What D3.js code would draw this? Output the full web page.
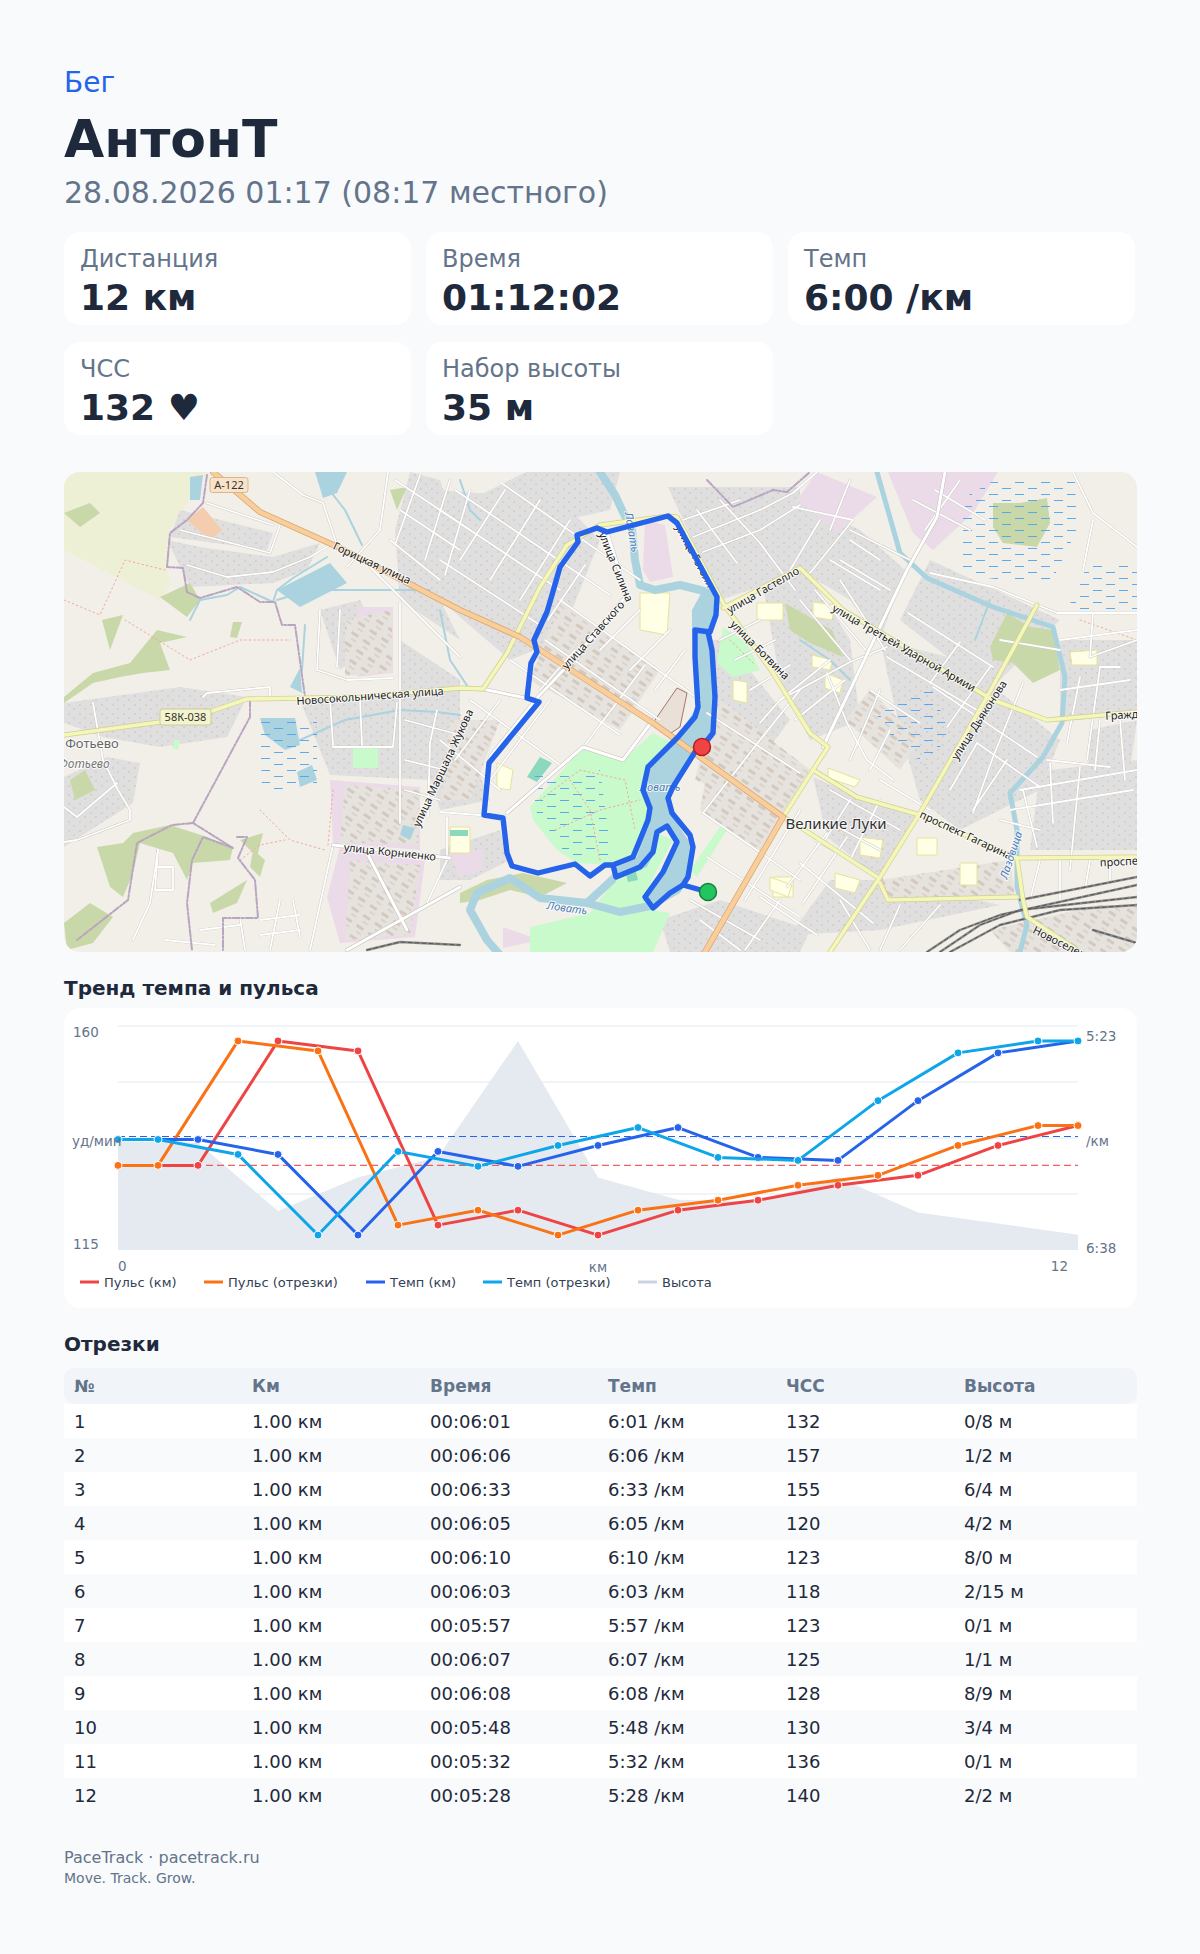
<!DOCTYPE html>
<html lang="ru">
<head>
<meta charset="utf-8">
<title>PaceTrack</title>
<script src="https://cdn.jsdelivr.net/npm/d3@7"></script>
<style>
  html, body { margin: 0; padding: 0; background: #f8fafc; }
  svg { display: block; font-family: "DejaVu Sans", sans-serif; }
  .maplabel { font-family: "Noto Sans", sans-serif; paint-order: stroke; stroke: rgba(255,255,255,.75); stroke-width: 2px; }
</style>
</head>
<body>
<script>
// ---- header and stat cards
var sport = "Бег", athlete = "АнтонТ", started = "28.08.2026 01:17 (08:17 местного)";
var statLabels = ["Дистанция", "Время", "Темп", "ЧСС", "Набор высоты"];
var statValues = ["12 км", "01:12:02", "6:00 /км", "132 ♥", "35 м"];

// ---- chart series
var kmMarks   = [0,1,2,3,4,5,6,7,8,9,10,11,12];
var kmHr      = [132,132,157,155,120,123,118,123,125,128,130,136,140];
var kmPace    = [361,361,366,393,365,370,363,357,367,368,348,332,328];
var splitMarks = [0,0.5,1.5,2.5,3.5,4.5,5.5,6.5,7.5,8.5,9.5,10.5,11.5,12];
var splitHr    = [132,132,157,155,120,123,118,123,125,128,130,136,140,140];
var splitPace  = [361,361,366,393,365,370,363,357,367,368,348,332,328,328];
var elevation  = [97.8,97.7,92.8,95.2,96.7,105,95.2,93.6,93.5,95.2,92.7,91.9,91.1];
var avgHr = 132, avgPace = 360;
var hrGrid = [160,148.75,137.5,126.25];
var legendNames = ["Пульс (км)","Пульс (отрезки)","Темп (км)","Темп (отрезки)","Высота"];
var legendColors = ["#ef4444","#f97316","#2563eb","#0ea5e9","#cbd5e1"];

// ---- table
var tableHead = ["№","Км","Время","Темп","ЧСС","Высота"];
var segNo    = ["1","2","3","4","5","6","7","8","9","10","11","12"];
var segKm    = ["1.00 км","1.00 км","1.00 км","1.00 км","1.00 км","1.00 км","1.00 км","1.00 км","1.00 км","1.00 км","1.00 км","1.00 км"];
var segTime  = ["00:06:01","00:06:06","00:06:33","00:06:05","00:06:10","00:06:03","00:05:57","00:06:07","00:06:08","00:05:48","00:05:32","00:05:28"];
var segPace  = ["6:01 /км","6:06 /км","6:33 /км","6:05 /км","6:10 /км","6:03 /км","5:57 /км","6:07 /км","6:08 /км","5:48 /км","5:32 /км","5:28 /км"];
var segHr    = ["132","157","155","120","123","118","123","125","128","130","136","140"];
var segElev  = ["0/8 м","1/2 м","6/4 м","4/2 м","8/0 м","2/15 м","0/1 м","1/1 м","8/9 м","3/4 м","0/1 м","2/2 м"];

// ---- map features
var farmland = [[[64,472],[207,472],[170,530],[167,567],[170,585],[160,600],[64,550]]];
var residential = [
 [[180,510],[273,533],[267,550],[170,537]],
 [[167,540],[200,547],[273,557],[320,543],[307,570],[273,583],[190,587]],
 [[64,703],[180,687],[247,697],[227,737],[160,747],[103,737],[64,723]],
 [[64,777],[107,757],[140,763],[133,803],[64,847]],
 [[440,490],[560,500],[600,540],[560,640],[510,660],[440,600]],
 [[668,487],[800,487],[800,573],[720,600]],
 [[880,640],[960,660],[1060,740],[1040,790],[960,830],[920,800],[900,730]],
 [[1090,730],[1137,720],[1130,770],[1087,790]],
 [[813,777],[873,803],[917,817],[877,877],[827,837]],
 [[760,570],[800,560],[850,640],[860,720],[810,740],[780,680]],
 [[400,640],[460,680],[460,700],[400,700]],
 [[1040,770],[1080,770],[1070,850],[1030,850]],
 [[470,500],[530,470],[620,472],[610,510],[520,530]],
 [[400,600],[460,640],[440,600],[460,540],[440,480],[410,472],[395,530]],
 [[320,610],[360,600],[380,640],[340,670]],
 [[300,700],[460,695],[460,740],[430,780],[330,775]],
 [[425,760],[470,750],[490,800],[440,810]],
 [[440,850],[500,830],[510,860],[470,880],[440,880]],
 [[700,640],[725,640],[790,720],[760,760],[720,720]],
 [[800,500],[860,530],[905,570],[880,640],[850,600],[800,570]],
 [[930,560],[1060,620],[990,690],[900,620]],
 [[1050,770],[1137,760],[1137,850],[1060,850]],
 [[1060,640],[1137,640],[1137,710],[1060,720]],
 [[660,920],[720,900],[810,930],[800,952],[670,952]],
 [[830,880],[880,880],[1000,905],[880,930],[790,935]]
];
var denseBlocks = [
 [[560,600],[660,670],[620,730],[530,680]],
 [[450,720],[500,720],[470,800],[440,800]],
 [[720,700],[810,770],[760,850],[700,810]],
 [[345,620],[392,610],[392,672],[345,676]],
 [[345,785],[420,790],[418,845],[340,842]],
 [[350,860],[420,865],[410,935],[345,940]],
 [[880,880],[1010,860],[1015,895],[885,900]],
 [[990,930],[1100,905],[1137,905],[1137,952],[1010,952]],
 [[870,690],[920,740],[900,770],[845,720]],
 [[710,720],[745,735],[720,790],[695,780]]
];
var industrial = [
 [[357,607],[393,607],[393,673],[357,677]],
 [[330,780],[420,787],[420,850],[333,843]],
 [[340,847],[425,860],[415,937],[340,943],[327,897]],
 [[797,500],[817,472],[877,497],[837,533]],
 [[888,472],[998,472],[973,513],[933,550],[913,533]],
 [[645,520],[665,525],[673,577],[650,582],[643,570]],
 [[450,853],[483,850],[483,870],[460,877]],
 [[503,927],[540,940],[503,948]]
];
var forest = [
 [[64,697],[93,673],[130,663],[157,630],[187,637],[160,643],[170,670],[143,673],[120,677],[93,683],[64,703]],
 [[160,597],[190,583],[200,600],[187,617]],
 [[102,620],[123,615],[110,650]],
 [[233,622],[242,622],[237,638],[230,637]],
 [[133,833],[170,825],[207,837],[233,847],[230,860],[193,863],[187,880],[173,853],[140,843],[133,873],[123,897],[110,887],[97,847],[123,843]],
 [[64,923],[90,903],[113,917],[93,943],[67,950]],
 [[210,903],[247,880],[237,903],[213,913]],
 [[240,840],[263,833],[257,857]],
 [[253,850],[265,860],[260,877],[250,867]],
 [[64,513],[90,503],[100,513],[80,527]],
 [[390,490],[407,487],[397,510]],
 [[460,893],[487,880],[523,873],[567,883],[540,897],[510,890],[480,900],[460,903]],
 [[990,647],[1007,613],[1030,627],[1053,630],[1060,670],[1033,683],[1013,663],[993,660]],
 [[993,503],[1020,503],[1047,498],[1050,523],[1037,547],[1003,543],[993,527]],
 [[70,780],[85,770],[95,790],[75,800]],
 [[785,603],[832,630],[843,657],[810,643],[790,630]]
];
var parks = [
 [[530,807],[583,747],[623,760],[653,733],[673,743],[648,767],[642,790],[650,813],[637,857],[610,865],[577,863],[557,850],[533,820]],
 [[530,927],[590,913],[617,877],[640,877],[653,910],[670,913],[653,952],[530,952]],
 [[620,878],[653,857],[657,833],[673,840],[643,897],[630,890]],
 [[697,877],[727,830],[720,827],[690,870]],
 [[723,627],[747,643],[760,670],[733,677],[717,663]],
 [[175,740],[180,740],[178,750],[172,748]],
 [[353,747],[378,748],[378,768],[353,768]]
];
var pitches = [[[527,777],[540,757],[552,763],[537,782]],[[625,870],[635,868],[638,880],[628,882]],[[450,830],[468,830],[468,836],[450,836]]];
var fortress = [[[653,723],[677,688],[687,693],[680,727],[668,735]]];
var allotments = [[[187,520],[203,507],[222,530],[210,540]]];
var schools = [
 [[497,763],[513,770],[510,790],[497,788]],[[640,593],[670,593],[667,635],[640,630]],[[733,680],[747,682],[747,703],[733,700]],
 [[757,603],[783,603],[783,620],[757,620]],[[773,877],[793,877],[793,897],[773,897]],[[917,838],[937,838],[937,855],[917,855]],
 [[960,863],[977,863],[977,885],[960,885]],[[860,837],[883,840],[880,858],[860,855]],[[835,873],[860,880],[855,893],[835,888]],
 [[770,877],[792,885],[788,897],[770,890]],[[1070,652],[1097,650],[1097,665],[1072,665]],[[813,602],[835,605],[832,620],[813,617]],
 [[812,655],[833,660],[830,670],[812,667]],[[825,673],[843,680],[840,693],[825,688]],[[828,768],[860,780],[855,787],[828,778]],
 [[450,827],[470,827],[470,853],[450,853]]
];
var wetlands = [
 [[960,500],[1000,477],[1075,480],[1077,530],[1050,585],[960,575]],
 [[1067,610],[1090,560],[1137,565],[1137,610]],
 [[877,715],[930,683],[950,735],[925,765],[885,730]],
 [[260,720],[317,720],[317,787],[262,790]],
 [[535,773],[600,770],[612,860],[570,860],[535,810]]
];
var waterAreas = [
 [[692,630],[697,707],[673,743],[647,767],[642,790],[650,813],[637,857],[617,867],[610,877],[617,878],[647,867],[657,847],[657,830],[667,827],[677,840],[663,873],[643,900],[653,908],[680,893],[690,877],[693,847],[670,813],[667,797],[697,753],[715,727],[715,697],[710,630],[717,597],[703,590],[692,610]],
 [[277,590],[330,563],[347,583],[300,607]],
 [[260,718],[295,718],[300,745],[285,750],[265,735]],
 [[297,772],[312,765],[317,780],[300,787]],
 [[315,472],[347,472],[337,493],[323,498]],
 [[190,477],[203,475],[200,500],[190,500]],
 [[290,687],[300,668],[302,693]],
 [[403,825],[415,828],[410,840],[400,835]]
];
var riverWide = [[[712,620],[712,593],[680,585],[655,590],[640,585],[635,560],[632,530],[622,510],[615,495],[600,472]],
 [[612,880],[587,903],[540,898],[510,878],[477,893],[470,910],[487,940],[500,955]],
 [[587,903],[620,912],[655,905]]];
var riverNarrow = [
 [[877,472],[900,553],[927,578],[993,607],[1053,627],[1065,677],[1062,723],[1043,757],[1010,793],[1017,830],[1017,887],[1027,925],[1020,952]]
];
var streams = [
 [[190,620],[200,600],[227,595],[240,587],[273,602],[277,590],[293,578],[327,557]],
 [[277,600],[310,590],[360,590],[400,590],[430,590]],
 [[302,670],[305,625]],[[320,478],[345,510],[362,545]],
 [[300,740],[345,720],[400,710],[437,712],[460,715]],
 [[440,610],[450,660],[470,690]],[[990,600],[975,640]],
 [[460,480],[470,510],[480,520]],[[800,640],[830,660],[850,680]]
];
var streets = [
 [[180,530],[270,553],[280,525]],[[187,565],[227,577],[273,572],[310,557],[330,545]],[[207,503],[273,525]],[[273,472],[303,495],[323,503],[337,545]],
 [[388,472],[380,530],[347,567]],[[400,603],[400,697],[400,823]],[[370,567],[460,657]],[[320,610],[317,670],[347,680],[393,678]],[[340,610],[337,667]],
 [[203,697],[207,693],[270,687],[270,697]],[[93,703],[103,760],[118,790],[130,810],[130,820],[77,840],[64,842]],[[64,807],[77,817],[117,783]],
 [[397,703],[393,747],[333,747]],[[437,710],[430,743],[428,817]],[[333,845],[310,950]],[[447,817],[447,860],[427,903]],
 [[158,850],[155,890],[173,890],[173,867],[158,867]],[[158,850],[150,903],[133,940]],[[293,900],[300,937]],[[440,510],[560,590]],[[455,490],[610,595]],
 [[500,482],[640,580]],[[440,560],[540,625]],[[560,600],[700,700]],[[545,640],[660,720]],[[510,660],[620,735]],[[470,700],[560,765]],[[440,740],[500,790]],
 [[460,560],[505,490]],[[490,580],[540,500]],[[520,600],[570,520]],[[548,620],[585,565]],[[600,650],[640,610]],[[630,670],[670,630]],[[655,690],[685,650]],
 [[540,690],[575,650]],[[490,780],[550,700]],[[455,760],[500,700]],[[585,745],[645,665]],[[440,812],[505,817]],
 [[707,713],[800,773]],[[703,813],[800,880]],[[707,857],[800,917]],[[730,780],[813,835]],[[745,900],[800,810]],[[703,813],[760,740],[800,690]],
 [[930,573],[993,587],[1057,613],[1137,613]],[[793,507],[853,520],[810,573]],[[760,510],[793,493],[817,472]],[[683,520],[740,500]],[[693,537],[760,510]],
 [[703,552],[760,530],[800,505]],[[697,510],[737,563]],[[720,500],[760,543],[795,590]],[[908,613],[993,667]],[[887,657],[977,710]],[[933,687],[1037,757]],
 [[870,690],[920,723]],[[977,743],[1040,787]],[[960,642],[930,683]],[[990,667],[947,727]],[[1023,683],[993,757],[973,813]],[[977,743],[950,790]],
 [[1007,760],[973,810]],[[1047,760],[1110,767]],[[1080,767],[1070,870]],[[1050,763],[1053,823]],[[1120,667],[1100,667],[1087,760]],[[1080,677],[1067,743]],
 [[1010,810],[1133,790]],[[1023,790],[1037,847]],[[1093,613],[1090,657],[1137,640]],[[1073,472],[1093,513],[1137,547]],[[1093,520],[1083,570]],
 [[760,723],[780,700],[850,662],[887,647]],[[827,673],[847,723],[867,760],[893,780]],[[827,833],[787,887]],[[847,837],[803,903]],[[800,863],[873,923]],
 [[913,500],[970,530]],[[935,490],[985,520]],[[925,530],[960,480]],[[850,540],[880,560]],[[840,560],[890,590]],[[1040,830],[1000,820]],[[760,897],[817,935]],
 [[395,480],[470,530]],[[400,510],[460,550]],[[390,540],[440,580]],[[420,475],[395,545]],[[450,480],[425,560]],[[470,490],[445,575]],
 [[330,700],[333,745]],[[360,700],[362,745]],[[405,720],[460,735]],[[405,760],[445,770]],[[405,790],[440,800]],
 [[720,640],[760,620]],[[735,660],[775,640]],[[750,690],[790,665]],[[780,700],[830,660]],[[795,720],[845,680]],[[800,600],[850,660]],[[815,590],[870,655]],[[840,580],[885,650]],
 [[850,530],[910,560]],[[830,560],[880,590]],[[820,520],[790,570]],[[850,480],[830,530]],
 [[850,760],[880,690]],[[870,770],[890,730]],[[880,780],[930,810]],[[830,790],[900,830]],[[825,820],[880,850]],[[815,840],[870,870]],[[850,800],[825,840]],[[880,800],[850,860]],
 [[690,900],[760,940]],[[700,920],[740,950]],[[780,900],[745,950]],[[840,900],[870,950]],[[900,905],[880,950]],[[940,905],[900,950]],
 [[1060,690],[1130,680]],[[1065,720],[1137,712]],[[1100,720],[1095,770]],[[1120,720],[1125,780]],[[1040,860],[1030,900]],[[1060,860],[1060,900]],[[1090,860],[1085,890]],[[1110,860],[1110,880]],[[1020,790],[1137,770]],
 [[260,920],[300,915]],[[260,935],[300,930]],[[280,900],[270,950]],[[200,930],[240,925]],[[165,940],[215,945]],[[240,918],[245,950]],
 [[1060,640],[1137,630]],[[1000,640],[1060,650]]
];
var bigStreets = [
 [[607,532],[627,595],[573,660],[538,697],[490,757],[487,780]],[[507,813],[583,747],[623,760],[653,720]],
 [[333,845],[450,858]],[[367,853],[407,930]],[[460,887],[347,950]],[[823,747],[907,570],[937,517],[945,472]],[[483,689],[540,701]]
];
var secondary = [
 [[64,735],[160,722],[212,711],[247,699],[308,698],[360,697],[460,688],[483,689],[507,653],[540,587],[567,545],[600,525],[668,516],[677,517],[723,603],[773,673],[810,733],[828,747],[813,770],[783,817]],
 [[723,608],[800,568],[843,610],[993,700],[1047,720],[1137,712]],
 [[1037,605],[987,697],[920,813],[880,877],[830,952]],
 [[813,770],[857,797],[920,815],[1017,858],[1137,857]],
 [[1017,858],[1023,900],[1027,917],[1080,952]],
 [[880,883],[888,900],[1017,897]],
 [[783,817],[800,827],[877,877]]
];
var primary = [[[213,472],[260,512],[340,548],[460,610],[520,637],[653,723],[783,817],[705,952]]];
var boundary = [
 [[207,475],[203,503],[187,520],[170,533],[167,567],[183,568],[187,592],[200,598],[237,587],[260,602],[275,602],[282,625],[295,625],[305,697]],
 [[250,700],[250,717],[193,823],[233,848],[203,837],[192,860],[187,903],[192,950]],
 [[193,823],[172,825],[137,843],[128,900],[77,940]],
 [[237,837],[247,837],[238,858],[255,880],[258,918],[223,918],[223,950]],
 [[707,480],[733,507],[773,490],[787,492],[810,472]]
];
var footways = [
 [[540,800],[580,770],[625,780],[635,830]],[[555,830],[600,810],[640,800]],[[570,780],[590,810],[600,860]],
 [[333,790],[328,845]],[[260,810],[290,840],[325,850]],[[240,860],[260,845],[285,840]],
 [[64,600],[100,615],[125,560],[165,570]],[[125,620],[190,660],[240,640],[290,640]],[[730,640],[755,665]],[[880,870],[890,905]],
 [[1080,620],[1137,640]]
];
var railways = [
 [[927,952],[960,930],[1000,915],[1137,885]],[[940,952],[980,925],[1020,910],[1137,897]],[[950,952],[1000,925],[1060,910],[1137,905]],
 [[1020,900],[1137,877]],[[1093,930],[1137,943]],[[367,950],[400,942],[460,945]]
];
var routeLoop = [[708,892],[683,885],[670,893],[653,908],[645,897],[663,872],[677,842],[667,826],[657,832],[653,852],[640,867],[616,877],[613,865],[633,857],[648,820],[650,808],[643,790],[648,767],[678,737],[695,717],[698,707],[695,657],[695,630],[710,632],[716,615],[717,597],[677,523],[668,516],[607,532],[597,528],[577,535],[578,542],[560,567],[552,595],[547,612],[534,640],[537,652],[531,663],[527,698],[539,702],[489,763],[484,815],[503,818],[507,853],[512,866],[538,873],[575,864],[590,876],[605,865],[613,865]];
var routeBack = [[683,885],[688,877],[693,847],[690,835],[672,813],[668,798],[673,787],[695,752],[702,747],[713,733],[715,697],[712,650],[708,632]];
var startPoint = [708,892], finishPoint = [702,747];

// map labels
var mapLabels = [
 {t:"Горицкая улица",x:372,y:563,r:25,s:11,c:"#222"},
 {t:"Новосокольническая улица",x:370,y:696,r:-4,s:11,c:"#222"},
 {t:"улица Маршала Жукова",x:443,y:768,r:-65,s:11,c:"#222"},
 {t:"улица Корниенко",x:390,y:852,r:6,s:11,c:"#222"},
 {t:"улица Силина",x:616,y:567,r:68,s:11,c:"#222"},
 {t:"улица Ставского",x:593,y:635,r:-48,s:11,c:"#222"},
 {t:"улица Гастелло",x:763,y:590,r:-30,s:11,c:"#222"},
 {t:"улица Ботвина",x:760,y:650,r:45,s:11,c:"#222"},
 {t:"улица Гоголя",x:695,y:556,r:62,s:11,c:"#222"},
 {t:"улица Третьей Ударной Армии",x:904,y:648,r:30,s:11,c:"#222"},
 {t:"улица Дьяконова",x:979,y:720,r:-57,s:11,c:"#222"},
 {t:"проспект Гагарина",x:966,y:835,r:25,s:11,c:"#222"},
 {t:"Гражданская",x:1140,y:714,r:-3,s:11,c:"#222"},
 {t:"проспект Гагарина",x:1150,y:860,r:-3,s:11,c:"#222"},
 {t:"Новоселенье",x:1065,y:945,r:27,s:11,c:"#222"},
 {t:"Ловать",x:632,y:532,r:80,s:11,c:"#4a7ab5",i:1},
 {t:"Ловать",x:660,y:787,r:0,s:11,c:"#4a7ab5",i:1},
 {t:"Ловать",x:567,y:908,r:8,s:11,c:"#4a7ab5",i:1},
 {t:"Лазовица",x:1011,y:855,r:-72,s:11,c:"#4a7ab5",i:1},
 {t:"Фотьево",x:92,y:743,r:0,s:13,c:"#666"},
 {t:"Фотьево",x:84,y:764,r:0,s:12,c:"#777",i:1},
 {t:"Великие Луки",x:836,y:824,r:0,s:15,c:"#333"}
];
var mapShields = [
 {t:"А-122",x:229,y:485,w:38,h:15,f:"#f9e3c8",b:"#d9b68c"},
 {t:"58К-038",x:185.5,y:717,w:51,h:16,f:"#f3f4cd",b:"#c9cb96"}
];

var svg = d3.select("body").append("svg").attr("width",1200).attr("height",1954);

// ---- header
svg.append("text").attr("x",64).attr("y",92).attr("fill","#2563eb").attr("font-size",28).text(sport);
svg.append("text").attr("x",64).attr("y",157).attr("fill","#1e293b").attr("font-size",52).attr("font-weight",700).text(athlete);
svg.append("text").attr("x",64).attr("y",203).attr("fill","#64748b").attr("font-size",30).text(started);

var cardX = d3.scalePoint().domain([0,1,2]).range([64,788]);
var cardY = d3.scalePoint().domain([0,1]).range([232,342]);
var cards = svg.selectAll(".card").data(statLabels).enter().append("g").attr("class","card")
  .attr("transform",function(d,i){return "translate("+cardX(i%3)+","+cardY(Math.floor(i/3))+")";});
cards.append("rect").attr("width",347).attr("height",93).attr("rx",16).attr("fill","#fff");
cards.append("text").attr("x",16).attr("y",35).attr("fill","#64748b").attr("font-size",24).text(function(d){return d;});
cards.append("text").attr("x",16).attr("y",78).attr("fill","#1e293b").attr("font-size",36).attr("font-weight",700)
  .text(function(d,i){return statValues[i];});

// ---- map
var mapX = d3.scaleLinear().domain([64,1137]).range([64,1137]);
var mapY = d3.scaleLinear().domain([472,952]).range([472,952]);
var defs = svg.append("defs");
defs.append("clipPath").attr("id","mapclip").append("rect")
  .attr("x",64).attr("y",472).attr("width",1073).attr("height",480).attr("rx",16);
var houses = defs.append("pattern").attr("id","houses").attr("patternUnits","userSpaceOnUse").attr("width",11).attr("height",9);
houses.append("rect").attr("width",11).attr("height",9).attr("fill","#e0dfdf");
houses.append("rect").attr("x",2).attr("y",2).attr("width",2).attr("height",2).attr("fill","#d9d0c9");
houses.append("rect").attr("x",7).attr("y",6).attr("width",2).attr("height",2).attr("fill","#d9d0c9");
var blocks = defs.append("pattern").attr("id","blocks").attr("patternUnits","userSpaceOnUse").attr("width",14).attr("height",12).attr("patternTransform","rotate(34)");
blocks.append("rect").attr("width",14).attr("height",12).attr("fill","#e6e3df");
blocks.append("rect").attr("x",1).attr("y",2).attr("width",8).attr("height",3).attr("fill","#d4c9bf");
blocks.append("rect").attr("x",4).attr("y",8).attr("width",6).attr("height",2).attr("fill","#dbd2ca");
var marsh = defs.append("pattern").attr("id","marsh").attr("patternUnits","userSpaceOnUse").attr("width",26).attr("height",12);
marsh.append("rect").attr("x",1).attr("y",2).attr("width",9).attr("height",.9).attr("fill","#4aa3f0");
marsh.append("rect").attr("x",14).attr("y",8).attr("width",9).attr("height",.9).attr("fill","#4aa3f0");

var map = svg.append("g").attr("clip-path","url(#mapclip)");
var pathLine = d3.line().x(function(d){return mapX(d[0]);}).y(function(d){return mapY(d[1]);});
var polyPath = function(d){return pathLine(d)+"Z";};

function areas(list, fill, stroke){
  map.append("g").selectAll("path").data(list).enter().append("path")
    .attr("d",polyPath).attr("fill",fill).attr("stroke",stroke||"none");
}
function lines(list, color, w, dash){
  map.append("g").selectAll("path").data(list).enter().append("path")
    .attr("d",pathLine).attr("fill","none").attr("stroke",color).attr("stroke-width",w)
    .attr("stroke-linejoin","round").attr("stroke-linecap","round").attr("stroke-dasharray",dash||null);
}

map.append("rect").attr("x",mapX(64)).attr("y",mapY(472)).attr("width",1073).attr("height",480).attr("fill","#f2efe9");
areas(farmland,"#eef0d5");
areas(residential,"url(#houses)");
areas(industrial,"#ebdbe8");
areas(denseBlocks,"url(#blocks)");
areas(forest,"#c9d8a8");
areas(parks,"#c8facc");
areas(allotments,"#f3cdae");
areas(schools,"#ffffe5","#e6e29a");
areas(pitches,"#8ad9bf");
areas(fortress,"#e9e1d8","#a8746a");
lines(riverWide,"#aad3df",8);
lines(riverNarrow,"#aad3df",5);
areas(waterAreas,"#aad3df");
lines(streams,"#aad3df",2);
areas(wetlands,"url(#marsh)");
lines(footways,"#f4a79b",1,"1.5,3");
lines(streets,"#c9c6c1",2.6);
lines(streets,"#ffffff",1.8);
lines(bigStreets,"#c2bfb9",4);
lines(bigStreets,"#ffffff",3);
lines(railways,"#8a8a8a",2.4);
lines(railways,"#555555",1,"4,3");
lines(boundary,"#b8a5c0",2,"7,2,2,2");
lines(secondary,"#cfcf95",5);
lines(secondary,"#f5f7b8",3.6);
lines(primary,"#dda66c",6.2);
lines(primary,"#f8cf9c",4.6);

var labs = map.append("g").selectAll("text").data(mapLabels).enter().append("text")
  .attr("class","maplabel").attr("text-anchor","middle")
  .attr("transform",function(d){return "translate("+mapX(d.x)+","+mapY(d.y)+") rotate("+d.r+")";})
  .attr("dy","0.35em").attr("font-size",function(d){return d.s;}).attr("fill",function(d){return d.c;})
  .attr("font-style",function(d){return d.i?"italic":null;}).text(function(d){return d.t;});
var shields = map.append("g").selectAll("g").data(mapShields).enter().append("g")
  .attr("transform",function(d){return "translate("+mapX(d.x)+","+mapY(d.y)+")";});
shields.append("rect").attr("x",function(d){return -d.w/2;}).attr("y",function(d){return -d.h/2;})
  .attr("width",function(d){return d.w;}).attr("height",function(d){return d.h;}).attr("rx",2.5)
  .attr("fill",function(d){return d.f;}).attr("stroke",function(d){return d.b;});
shields.append("text").attr("text-anchor","middle").attr("dy","0.35em").attr("font-size",11).attr("fill","#333")
  .style("font-family","'Noto Sans',sans-serif").text(function(d){return d.t;});

// track and start/finish
lines([routeLoop,routeBack],"#2563eb",5.4);
map.append("circle").attr("cx",mapX(startPoint[0])).attr("cy",mapY(startPoint[1])).attr("r",8.5)
  .attr("fill","#22c55e").attr("stroke","#15803d").attr("stroke-width",1.5);
map.append("circle").attr("cx",mapX(finishPoint[0])).attr("cy",mapY(finishPoint[1])).attr("r",8.5)
  .attr("fill","#ef4444").attr("stroke","#b91c1c").attr("stroke-width",1.5);

// ---- trend chart
svg.append("text").attr("x",64).attr("y",995).attr("fill","#1e293b").attr("font-size",20).attr("font-weight",700).text("Тренд темпа и пульса");
svg.append("rect").attr("x",64).attr("y",1008).attr("width",1073).attr("height",300).attr("rx",16).attr("fill","#fff");

var xScale = d3.scaleLinear().domain([0,12]).range([118,1078]);
var hrScale = d3.scaleLinear().domain([115,160]).range([1250,1026]);
var paceScale = d3.scaleLinear().domain([398,323]).range([1250,1026]);
var elevScale = d3.scaleLinear().domain([90,105]).range([1250,1041]);

svg.append("path").datum(kmMarks).attr("fill","#e2e8f0").attr("fill-opacity",0.9)
  .attr("d",d3.area().x(function(d){return xScale(d);}).y0(hrScale(115)).y1(function(d,i){return elevScale(elevation[i]);}));
svg.selectAll(".grid").data(hrGrid).enter().append("line").attr("class","grid")
  .attr("x1",xScale(0)).attr("x2",xScale(12)).attr("y1",function(d){return hrScale(d);}).attr("y2",function(d){return hrScale(d);})
  .attr("stroke","#e2e8f0").attr("stroke-width",1);
svg.append("line").attr("x1",xScale(0)).attr("x2",xScale(12)).attr("y1",hrScale(avgHr)).attr("y2",hrScale(avgHr))
  .attr("stroke","#ef4444").attr("stroke-opacity",.85).attr("stroke-width",1.2).attr("stroke-dasharray","7,4");
svg.append("line").attr("x1",xScale(0)).attr("x2",xScale(12)).attr("y1",paceScale(avgPace)).attr("y2",paceScale(avgPace))
  .attr("stroke","#2563eb").attr("stroke-width",1.2).attr("stroke-dasharray","7,4");

function series(xs, ys, y, color){
  var pts = xs.map(function(d,i){return [xScale(d), y(ys[i])];});
  svg.append("path").datum(pts).attr("fill","none").attr("stroke",color).attr("stroke-width",3)
    .attr("stroke-linejoin","round").attr("d",d3.line());
  svg.append("g").selectAll("circle").data(pts).enter().append("circle")
    .attr("cx",function(d){return d[0];}).attr("cy",function(d){return d[1];}).attr("r",4)
    .attr("fill",color).attr("stroke","#fff").attr("stroke-width",1);
}
series(kmMarks,kmHr,hrScale,"#ef4444");
series(splitMarks,splitHr,hrScale,"#f97316");
series(kmMarks,kmPace,paceScale,"#2563eb");
series(splitMarks,splitPace,paceScale,"#0ea5e9");

var axisLabel = function(x,y,t,anchor){
  svg.append("text").attr("x",x).attr("y",y).attr("fill","#64748b").attr("font-size",13.5)
    .attr("text-anchor",anchor||"start").attr("dy","0.35em").text(t);
};
axisLabel(73,1032,"160"); axisLabel(72,1141,"уд/мин"); axisLabel(73,1244,"115");
axisLabel(1086,1036,"5:23"); axisLabel(1086,1141,"/км"); axisLabel(1086,1248,"6:38");
axisLabel(xScale(0),1266,"0"); axisLabel(xScale(6),1267,"км","middle"); axisLabel(1068,1266,"12","end");

var legendX = [80,204,366,483,638];
var legend = svg.selectAll(".legend").data(legendNames).enter().append("g").attr("class","legend")
  .attr("transform",function(d,i){return "translate("+legendX[i]+",1282)";});
legend.append("line").attr("x2",19).attr("stroke",function(d,i){return legendColors[i];}).attr("stroke-width",3);
legend.append("text").attr("x",24).attr("dy","0.35em").attr("font-size",13).attr("fill","#334155").text(function(d){return d;});

// ---- table
svg.append("text").attr("x",64).attr("y",1351).attr("fill","#1e293b").attr("font-size",20).attr("font-weight",700).text("Отрезки");
var colX = d3.scaleLinear().domain([0,5]).range([74,964]);
var rowY = d3.scaleLinear().domain([0,12]).range([1404,1812]);
svg.append("rect").attr("x",64).attr("y",1368).attr("width",1073).attr("height",36).attr("rx",10).attr("fill","#f1f5f9");
svg.selectAll(".th").data(tableHead).enter().append("text").attr("class","th")
  .attr("x",function(d,i){return colX(i);}).attr("y",1392).attr("fill","#64748b").attr("font-size",17).attr("font-weight",700)
  .text(function(d){return d;});
var rows = svg.selectAll(".row").data(segNo).enter().append("g").attr("class","row")
  .attr("transform",function(d,i){return "translate(0,"+rowY(i)+")";});
rows.append("rect").attr("x",64).attr("width",1073).attr("height",34).attr("fill",function(d,i){return i%2?"#f8fafc":"#fff";});
[segNo,segKm,segTime,segPace,segHr,segElev].forEach(function(col,c){
  rows.append("text").attr("x",colX(c)).attr("y",24).attr("fill","#1e293b").attr("font-size",18)
    .text(function(d,i){return col[i];});
});

// ---- footer
svg.append("text").attr("x",64).attr("y",1863).attr("fill","#64748b").attr("font-size",16).text("PaceTrack · pacetrack.ru");
svg.append("text").attr("x",64).attr("y",1883).attr("fill","#64748b").attr("font-size",14).text("Move. Track. Grow.");
</script>
</body>
</html>
